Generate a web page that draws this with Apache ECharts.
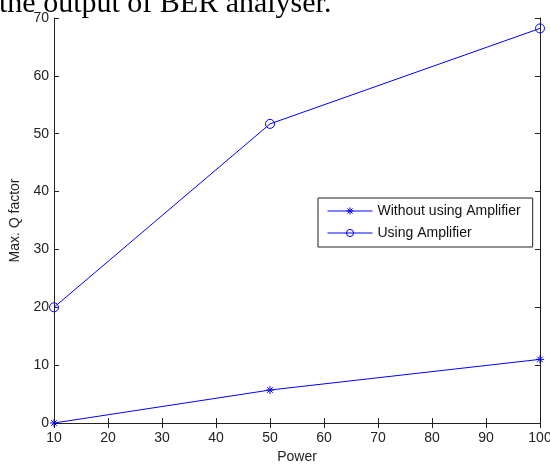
<!DOCTYPE html>
<html>
<head>
<meta charset="utf-8">
<script src="https://cdn.jsdelivr.net/npm/echarts@6/dist/echarts.min.js"></script>
<style>html,body{margin:0;padding:0;background:#fff;}#c{width:550px;height:464px;}</style>
</head>
<body>
<div id="c"></div>
<script>
var powers = [10, 50, 100];
var withoutAmp = [0, 5.7, 11];
var withAmp = [20, 51.7, 68.2];
var seriesNames = ['Without using Amplifier', 'Using Amplifier'];
var xTitle = 'Power';
var yTitle = 'Max. Q factor';
var captionText = 'the output of BER analyser.';

var starPath = 'path://M0,-10L0,10M-10,0L10,0M-7,-7L7,7M-7,7L7,-7';
var axisColor = '#222';
var labelFont = {fontFamily: 'Liberation Sans', fontSize: 14, color: '#222'};

var chart = echarts.init(document.getElementById('c'), null, {renderer: 'canvas'});
function pairs(xs, ys) { return xs.map(function (x, i) { return [x, ys[i]]; }); }

var baseX = {type: 'value', min: 10, max: 100, interval: 10,
  splitLine: {show: false},
  axisLine: {show: true, lineStyle: {color: axisColor, width: 1}},
  axisTick: {show: true, inside: true, length: 5, lineStyle: {color: axisColor}}};
var baseY = {type: 'value', min: 0, max: 70, interval: 10,
  splitLine: {show: false},
  axisLine: {show: true, lineStyle: {color: axisColor, width: 1}},
  axisTick: {show: true, inside: true, length: 5, lineStyle: {color: axisColor}}};

chart.setOption({
  animation: false,
  backgroundColor: '#fff',
  graphic: [{
    type: 'text', left: -1, top: -11,
    style: {text: captionText, font: '30px "Liberation Serif"', fill: '#000'}
  }],
  grid: {left: 54, right: 10, top: 18, bottom: 41, containLabel: false, outerBoundsMode: 'none'},
  xAxis: [
    Object.assign({}, baseX, {position: 'bottom', name: xTitle, nameLocation: 'middle', nameGap: 26,
      nameTextStyle: labelFont,
      axisLabel: Object.assign({margin: 8}, labelFont)}),
    Object.assign({}, baseX, {position: 'top', axisLabel: {show: false}})
  ],
  yAxis: [
    Object.assign({}, baseY, {position: 'left', name: yTitle, nameLocation: 'middle', nameGap: 26,
      nameTextStyle: labelFont,
      axisLabel: Object.assign({margin: 5}, labelFont)}),
    Object.assign({}, baseY, {position: 'right', axisLabel: {show: false}})
  ],
  legend: {
    orient: 'vertical', left: 318, top: 198,
    backgroundColor: '#fff', borderColor: '#222', borderWidth: 1,
    padding: [6, 12, 7, 9], itemGap: 8, itemWidth: 45, itemHeight: 9,
    lineStyle: {width: 1},
    itemStyle: {borderWidth: 1},
    textStyle: {fontFamily: 'Liberation Sans', fontSize: 14, lineHeight: 14, color: '#111'},
    data: seriesNames
  },
  series: [
    {name: seriesNames[0], type: 'line', data: pairs(powers, withoutAmp),
      color: '#0000ff', symbol: starPath, symbolSize: 8, showAllSymbol: true,
      lineStyle: {color: '#0000ff', width: 1},
      itemStyle: {color: '#0000ff', borderColor: '#0000ff', borderWidth: 1}},
    {name: seriesNames[1], type: 'line', data: pairs(powers, withAmp),
      color: '#0000ff', symbol: 'circle', symbolSize: 9, showAllSymbol: true,
      lineStyle: {color: '#0000ff', width: 1},
      itemStyle: {color: 'rgba(0,0,0,0)', borderColor: '#0000ff', borderWidth: 1}}
  ]
});
</script>
</body>
</html>
